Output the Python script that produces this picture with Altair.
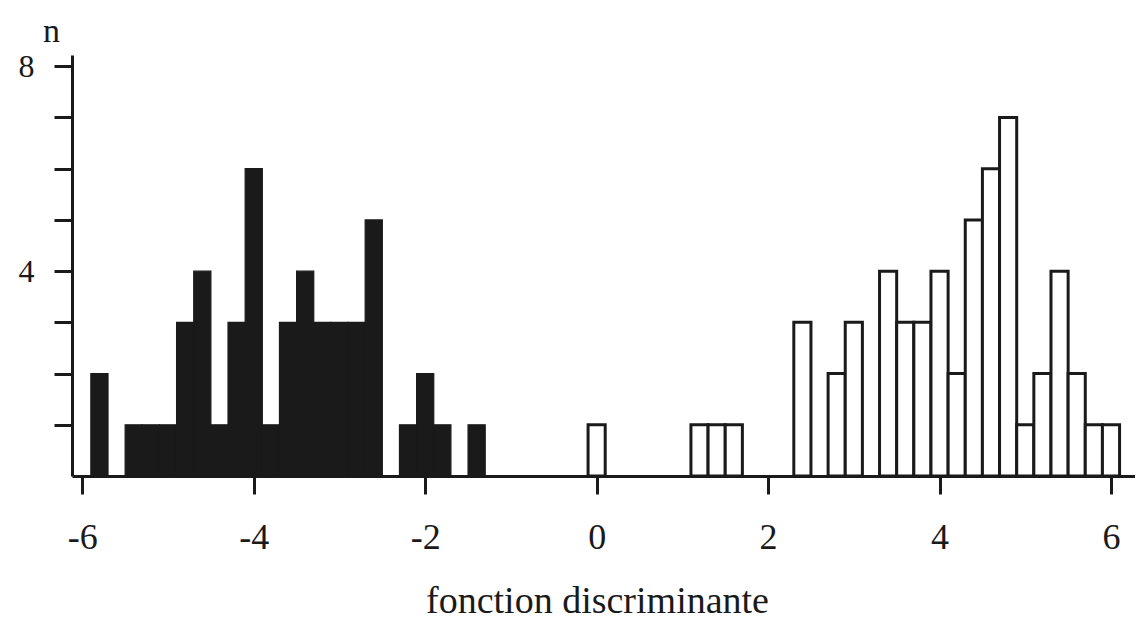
import altair as alt
import pandas as pd

# Black histogram (group 1): bin centres and counts
black_centres = [-5.8, -5.6, -5.4, -5.2, -5.0, -4.8, -4.6, -4.4, -4.2, -4.0, -3.8, -3.6,
                 -3.4, -3.2, -3.0, -2.8, -2.6, -2.4, -2.2, -2.0, -1.8, -1.6, -1.4]
black_counts = [2, 0, 1, 1, 1, 3, 4, 1, 3, 6, 1, 3,
                4, 3, 3, 3, 5, 0, 1, 2, 1, 0, 1]

# White histogram (group 2)
white_centres = [0.0, 1.2, 1.4, 1.6, 2.4, 2.8, 3.0, 3.4, 3.6, 3.8, 4.0, 4.2,
                 4.4, 4.6, 4.8, 5.0, 5.2, 5.4, 5.6, 5.8, 6.0]
white_counts = [1, 1, 1, 1, 3, 2, 3, 4, 3, 3, 4, 2,
                5, 6, 7, 1, 2, 4, 2, 1, 1]

x_ticks = [-6, -4, -2, 0, 2, 4, 6]
y_ticks = [1, 2, 3, 4, 5, 6, 7, 8]
bin_width = 0.2

rows = []
for c, n in zip(black_centres, black_counts):
    if n > 0:
        rows.append({"x0": c - bin_width / 2, "x1": c + bin_width / 2, "n": n, "group": "noir"})
for c, n in zip(white_centres, white_counts):
    if n > 0:
        rows.append({"x0": c - bin_width / 2, "x1": c + bin_width / 2, "n": n, "group": "blanc"})
df = pd.DataFrame(rows)

FONT = "Liberation Serif"
INK = "#1a1a1a"

xscale = alt.Scale(domain=[-6.12, 6.28], nice=False, zero=False)
yscale = alt.Scale(domain=[0, 8.22], nice=False, zero=True)

xaxis = alt.Axis(
    values=x_ticks, title="fonction discriminante", grid=False,
    labelExpr="'' + datum.value", labelFont=FONT, labelFontSize=36, labelColor=INK,
    labelPadding=26, labelBaseline="top",
    domainColor=INK, domainWidth=3, tickColor=INK, tickWidth=3, tickSize=18,
    titleFont=FONT, titleFontSize=38, titleFontWeight="normal", titleColor=INK,
    titleX=525, titleY=136, titleBaseline="alphabetic", titleAlign="center",
)
yaxis = alt.Axis(
    values=y_ticks, title="n", grid=False,
    labelExpr="(datum.value == 4 || datum.value == 8) ? '' + datum.value : ''",
    labelFont=FONT, labelFontSize=32, labelColor=INK, labelPadding=20,
    domainColor=INK, domainWidth=3, tickColor=INK, tickWidth=3, tickSize=18,
    titleFont=FONT, titleFontSize=34, titleFontWeight="normal", titleColor=INK,
    titleAngle=0, titleX=-21, titleY=-14, titleAlign="center", titleBaseline="alphabetic",
)

base = alt.Chart(df)

black = base.transform_filter(alt.datum.group == "noir").mark_rect(
    fill=INK, stroke=INK, strokeWidth=1.2
).encode(
    x=alt.X("x0:Q", scale=xscale, axis=xaxis),
    x2="x1:Q",
    y=alt.Y("n:Q", scale=yscale, axis=yaxis),
    y2=alt.datum(0),
)

white = base.transform_filter(alt.datum.group == "blanc").mark_rect(
    fill="white", stroke=INK, strokeWidth=3
).encode(
    x=alt.X("x0:Q", scale=xscale, axis=xaxis),
    x2="x1:Q",
    y=alt.Y("n:Q", scale=yscale, axis=yaxis),
    y2=alt.datum(0),
)

chart = alt.layer(black, white).properties(
    width=1063, height=421,
    autosize=alt.AutoSizeParams(type="none"),
    padding={"left": 64, "top": 47, "right": 0, "bottom": 144},
    background="white",
).configure_view(stroke=None)

chart.save("out.html", embed_options={"renderer": "svg", "actions": False})
